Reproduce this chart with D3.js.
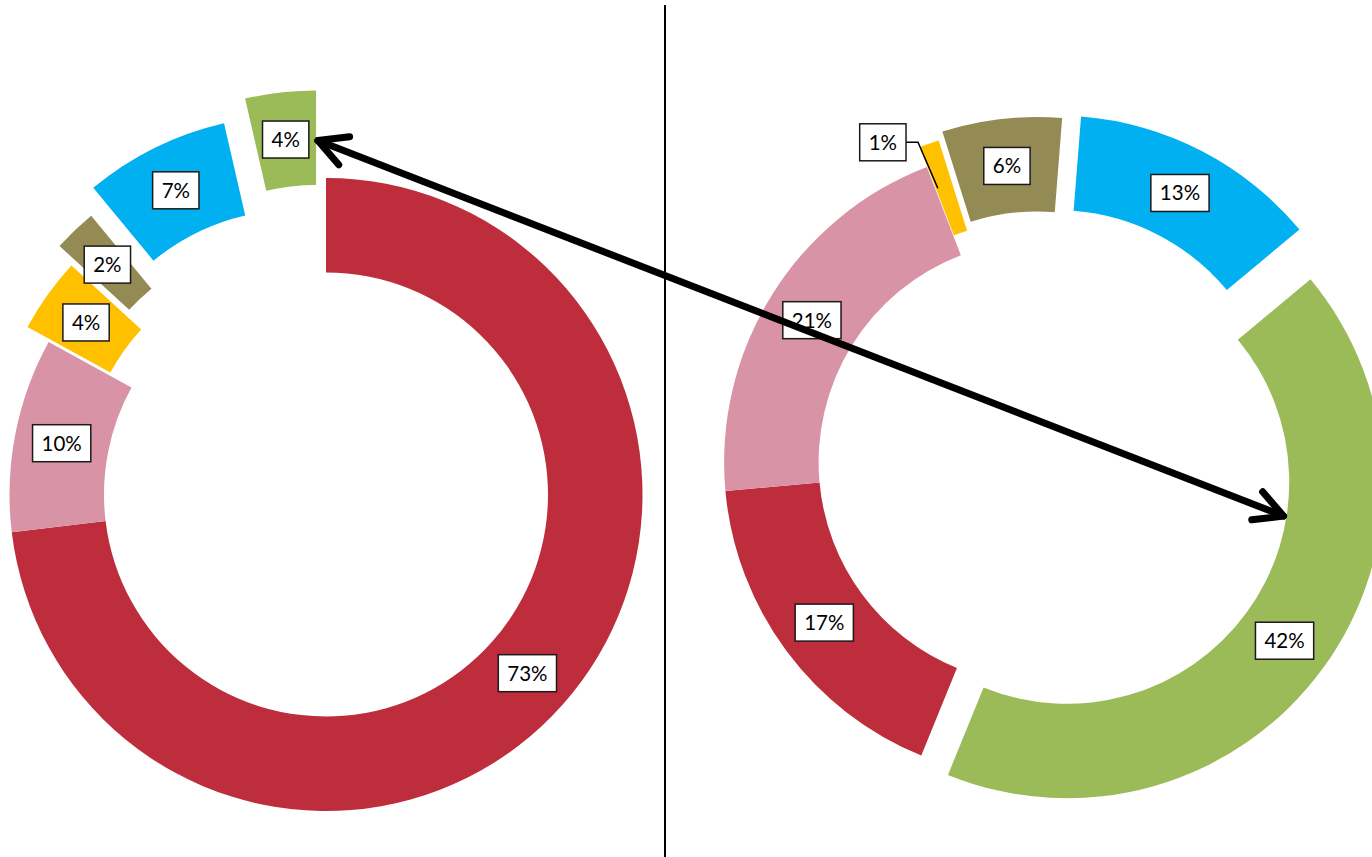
<!DOCTYPE html>
<html>
<head>
<meta charset="utf-8">
<script src="https://cdn.jsdelivr.net/npm/d3@7"></script>
<style>
  body { margin: 0; background: #fff; }
  .lbl text { font-family: Lato, "Open Sans", sans-serif; font-size: 20.5px; fill: #000; }
</style>
</head>
<body>
<div class="chart"></div>
<script>
const svgWidth = 1372
const svgHeight = 857

// categories share a colour across both rings
const categories = ["Red", "Pink", "Yellow", "Olive", "Blue", "Green"]
const colors = ["#BE2D3C", "#D993A6", "#FFC000", "#948A54", "#00B0F0", "#9BBB59"]

// left ring, clockwise from 12 o'clock (shares in %, labels are rounded)
const leftOrder = ["Red", "Pink", "Yellow", "Olive", "Blue", "Green"]
const leftValues = [73.1, 9.9, 3.8, 2.2, 7.4, 3.6]

// right ring, clockwise (first slice angle ~4.5deg)
const rightOrder = ["Blue", "Green", "Red", "Pink", "Yellow", "Olive"]
const rightValues = [12.7, 42.2, 17.4, 20.6, 1.0, 6.1]

// how far each slice is pulled out of the ring (px)
const leftExplode = [0, 0, 26, 48, 70, 88]
const rightExplode = [34, 33, 0, 0, 21, 29]

const outerR = 316.5
const innerR = 222

let svg = d3.select(".chart")
  .append("svg")
  .attr("width", svgWidth)
  .attr("height", svgHeight)

let color = d3.scaleOrdinal().domain(categories).range(colors)

let arc = d3.arc().innerRadius(innerR).outerRadius(outerR)

// divider
svg.append("line")
  .attr("x1", 665).attr("x2", 665)
  .attr("y1", 5).attr("y2", svgHeight)
  .attr("stroke", "#000")
  .attr("stroke-width", 2)

// ========================= RING =========================
function drawRing(cx, cy, order, values, explode, startDeg) {
  let start = startDeg * Math.PI / 180
  let pie = d3.pie().sort(null).startAngle(start).endAngle(start + 2 * Math.PI)
  let slices = pie(values).map((d, i) => {
    let mid = (d.startAngle + d.endAngle) / 2
    d.key = order[i]
    d.dx = explode[i] * Math.sin(mid)
    d.dy = -explode[i] * Math.cos(mid)
    return d
  })

  let g = svg.append("g").attr("transform", `translate(${cx}, ${cy})`)

  g.selectAll("path")
    .data(slices)
    .enter()
    .append("path")
    .attr("transform", d => `translate(${d.dx}, ${d.dy})`)
    .attr("d", arc)
    .attr("fill", d => color(d.key))

  return { g, slices, cx, cy }
}

function addLabel(ring, d, shift) {
  let c = arc.centroid(d)
  let x = c[0] + d.dx + (shift ? shift[0] : 0)
  let y = c[1] + d.dy + (shift ? shift[1] : 0)
  let lg = ring.g.append("g").attr("class", "lbl")
  let rect = lg.append("rect")
  let t = lg.append("text")
    .attr("x", x)
    .attr("y", y)
    .attr("text-anchor", "middle")
    .attr("dy", "0.36em")
    .text(Math.round(d.value) + "%")
  let w = t.node().getComputedTextLength() + 18
  let h = 37
  rect.attr("x", x - w / 2).attr("y", y - h / 2)
    .attr("width", w).attr("height", h)
    .attr("fill", "#fff")
    .attr("stroke", "#1a1a1a")
    .attr("stroke-width", 1.5)
  if (shift) {
    // leader line from box to the slice
    let ex = c[0] + d.dx - 7
    let ey = c[1] + d.dy
    ring.g.insert("path", ".lbl")
      .attr("d", `M${x + w / 2},${y} h12 L${ex},${ey}`)
      .attr("fill", "none")
      .attr("stroke", "#000")
      .attr("stroke-width", 1.5)
  }
  return { x: ring.cx + x, y: ring.cy + y, w, h }
}

let left = drawRing(326, 494.5, leftOrder, leftValues, leftExplode, 0)
let right = drawRing(1040.6, 462.3, rightOrder, rightValues, rightExplode, 4.5)

let leftBoxes = {}
left.slices.forEach(d => { leftBoxes[d.key] = addLabel(left, d) })
right.slices.forEach(d => {
  if (d.key === "Yellow") addLabel(right, d, [-62, -46])
  else addLabel(right, d)
})

// ========================= ARROW =========================
let gb = leftBoxes["Green"]
let p1 = [gb.x + gb.w / 2 + 9, gb.y + 1]

let rg = right.slices.find(d => d.key === "Green")
let a = 99 * Math.PI / 180
let p2 = [
  right.cx + rg.dx + (innerR - 3) * Math.sin(a),
  right.cy + rg.dy - (innerR - 3) * Math.cos(a)
]

function head(tip, from) {
  let ang = Math.atan2(from[1] - tip[1], from[0] - tip[0])
  let len = 32
  let spread = 28 * Math.PI / 180
  let a1 = [tip[0] + len * Math.cos(ang + spread), tip[1] + len * Math.sin(ang + spread)]
  let a2 = [tip[0] + len * Math.cos(ang - spread), tip[1] + len * Math.sin(ang - spread)]
  return `M${a1[0]},${a1[1]} L${tip[0]},${tip[1]} L${a2[0]},${a2[1]}`
}

let arrow = svg.append("g")
  .attr("fill", "none")
  .attr("stroke", "#000")
  .attr("stroke-width", 7)
  .attr("stroke-linecap", "round")
  .attr("stroke-linejoin", "round")

arrow.append("path").attr("d", `M${p1[0]},${p1[1]} L${p2[0]},${p2[1]}`)
arrow.append("path").attr("d", head(p1, p2))
arrow.append("path").attr("d", head(p2, p1))
</script>
</body>
</html>
